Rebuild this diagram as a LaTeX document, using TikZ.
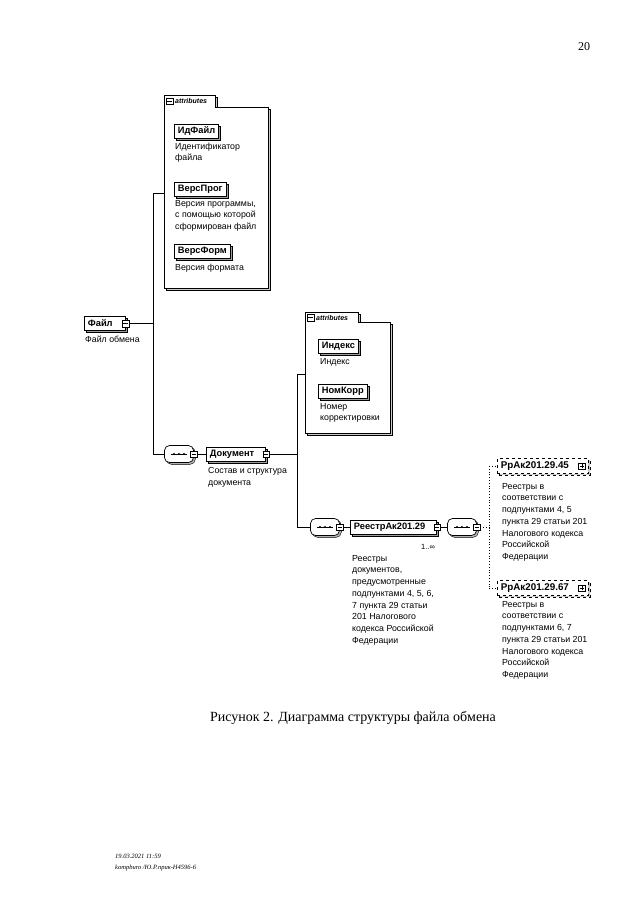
\documentclass[tikz,border=0pt]{standalone}
\usepackage{fontspec}
\setmainfont{Liberation Sans}
\newfontfamily\serifff{Liberation Serif}
\usetikzlibrary{shadows}
\tikzset{
  elem/.style={draw, fill=white, line width=0.8pt, font=\bfseries\fontsize{9.3}{10}\selectfont,
    inner xsep=3.5pt, inner ysep=0pt, minimum height=14pt, text height=7pt, text depth=1.8pt,
    copy shadow={shadow xshift=1.8pt, shadow yshift=-1.8pt, fill=gray!75, draw=black, line width=0.5pt}},
  optelem/.style={elem, dashed, line width=0.7pt, font=\bfseries\fontsize{9.8}{10}\selectfont, minimum height=15pt,
    copy shadow={shadow xshift=1.6pt, shadow yshift=-1.6pt, fill=gray!40, draw=black, dashed, line width=0.5pt}},
  iconbase/.style={draw, fill=white, inner sep=0pt, minimum size=6.5pt, line width=0.5pt},
  iconminus/.style={iconbase, path picture={\draw[line width=0.5pt] ([xshift=1pt]path picture bounding box.west) -- ([xshift=-1pt]path picture bounding box.east);}},
  iconplus/.style={iconbase, path picture={\draw[line width=0.5pt] ([xshift=1pt]path picture bounding box.west) -- ([xshift=-1pt]path picture bounding box.east);
      \draw[line width=0.5pt] ([yshift=1pt]path picture bounding box.south) -- ([yshift=-1pt]path picture bounding box.north);}},
  comp/.style={draw, fill=white, rounded corners=5pt, minimum width=29pt, minimum height=17pt, inner sep=0pt, line width=0.7pt,
    copy shadow={shadow xshift=1.8pt, shadow yshift=-1.8pt, fill=gray!60, draw=black, line width=0.4pt}},
  desc/.style={anchor=north west, align=left, inner sep=0pt, font=\fontsize{8.8}{11.7}\selectfont},
  conn/.style={line width=0.7pt},
  dconn/.style={line width=0.8pt, dotted},
  attrlbl/.style={font=\bfseries\itshape\fontsize{7}{8}\selectfont, anchor=west, inner sep=0pt},
  attrbox/.style={draw, fill=white, line width=0.7pt},
  attrshadow/.style={draw, fill=gray!40, line width=0.4pt}
}
\newcommand{\compdots}[1]{%
  \draw[line width=0.6pt] ([xshift=-8pt]#1.center) -- ([xshift=8pt]#1.center);
  \foreach \dx in {-5,0,5} \fill ([xshift=\dx pt]#1.center) circle (1.1pt);}
\begin{document}
\begin{tikzpicture}[x=1pt,y=-1pt]
\useasboundingbox[fill=white] (0,0) rectangle (640,905);

% page number
\node[font=\serifff\fontsize{12}{14}\selectfont] (pnum) at (584,47) {20};

% ---------- attributes box 1 ----------
\draw[attrshadow] (166,97) -- (217,97) -- (217,109) -- (270,109) -- (270,290) -- (166,290) -- cycle;
\draw[attrbox] (164,95) -- (215,95) -- (215,107) -- (268,107) -- (268,288) -- (164,288) -- cycle;
\node[iconminus] (a1icon) at (169.5,101) {};
\node[attrlbl] (a1lbl) at (175,101) {attributes};
\coordinate (a1L) at (164,193);

\node[elem, anchor=west] (idf) at (174,131) {ИдФайл};
\node[desc] (idfd) at (175,142.5) {Идентификатор\\файла};
\node[elem, anchor=west] (vprog) at (174,189) {ВерсПрог};
\node[desc] (vprogd) at (175,200) {Версия программы,\\с помощью которой\\сформирован файл};
\node[elem, anchor=west] (vform) at (174,251) {ВерсФорм};
\node[desc] (vformd) at (175,264) {Версия формата};

% ---------- Файл ----------
\node[elem, anchor=west] (file) at (84,323.5) {Файл\kern9pt};
\node[iconminus] (fileI) at (file.east) {};
\node[desc] (filed) at (85,335.5) {Файл обмена};
\coordinate (t1top) at (153,193);
\coordinate (t1bot) at (153,454);
\coordinate (t1mid) at (153,323.5);
\draw[conn] (a1L) -- (t1top) -- (t1bot);
\draw[conn] (fileI.east) -- (t1mid);

% ---------- Документ ----------
\node[comp] (c1) at (179,454) {};
\compdots{c1}
\node[iconminus] (c1I) at (c1.east) {};
\draw[conn] (t1bot) -- (c1.west);
\node[elem, anchor=west] (doc) at (206,454) {Документ\kern8pt};
\node[iconminus] (docI) at (doc.east) {};
\draw[conn] (c1I.east) -- (doc.west);
\node[desc] (docd) at (208,467) {Состав и структура\\документа};

% ---------- attributes box 2 ----------
\draw[attrshadow] (307,314) -- (360,314) -- (360,324) -- (392,324) -- (392,435) -- (307,435) -- cycle;
\draw[attrbox] (305,312) -- (358,312) -- (358,322) -- (390,322) -- (390,433) -- (305,433) -- cycle;
\node[iconminus] (a2icon) at (310.5,317.5) {};
\node[attrlbl] (a2lbl) at (316,317.5) {attributes};
\coordinate (a2L) at (305,374);

\node[elem, anchor=west] (idx) at (318,346) {Индекс};
\node[desc] (idxd) at (320,358.5) {Индекс};
\node[elem, anchor=west] (nkorr) at (318,391) {НомКорр};
\node[desc] (nkorrd) at (320,403) {Номер\\корректировки};

\coordinate (t2top) at (297,374);
\coordinate (t2mid) at (297,454);
\coordinate (t2bot) at (297,527);
\draw[conn] (a2L) -- (t2top) -- (t2bot);
\draw[conn] (docI.east) -- (t2mid);

% ---------- РеестрАк201.29 ----------
\node[comp] (c2) at (325,527) {};
\compdots{c2}
\node[iconminus] (c2I) at (c2.east) {};
\draw[conn] (t2bot) -- (c2.west);
\node[elem, anchor=west] (reestr) at (350,527) {РеестрАк201.29\kern8pt};
\node[iconminus] (reestrI) at (reestr.east) {};
\draw[conn] (c2I.east) -- (reestr.west);
\node[font=\fontsize{7.5}{8}\selectfont, inner sep=0pt] (mult) at (428,547) {1..∞};
\node[desc] (reestrd) at (352,555) {Реестры\\документов,\\предусмотренные\\подпунктами 4, 5, 6,\\7 пункта 29 статьи\\201 Налогового\\кодекса Российской\\Федерации};

\node[comp] (c3) at (462,527) {};
\compdots{c3}
\node[iconminus] (c3I) at (c3.east) {};
\draw[conn] (reestrI.east) -- (c3.west);
\coordinate (t3top) at (489,466);
\coordinate (t3mid) at (489,527);
\coordinate (t3bot) at (489,588);
\draw[dconn] (c3I.east) -- (t3mid);
\draw[dconn] (t3top) -- (t3bot);

% ---------- РрАк201.29.45 / .67 ----------
\node[optelem, anchor=west] (r45) at (497,466) {РрАк201.29.45\kern16pt};
\node[iconplus] (r45I) at ([xshift=-7pt]r45.east) {};
\draw[dconn] (t3top) -- (r45.west);
\node[desc] (r45d) at (502,483) {Реестры в\\соответствии с\\подпунктами 4, 5\\пункта 29 статьи 201\\Налогового кодекса\\Российской\\Федерации};

\node[optelem, anchor=west] (r67) at (497,588) {РрАк201.29.67\kern16pt};
\node[iconplus] (r67I) at ([xshift=-7pt]r67.east) {};
\draw[dconn] (t3bot) -- (r67.west);
\node[desc] (r67d) at (502,601) {Реестры в\\соответствии с\\подпунктами 6, 7\\пункта 29 статьи 201\\Налогового кодекса\\Российской\\Федерации};

% ---------- caption & footer ----------
\node[font=\serifff\fontsize{14}{16}\selectfont] (cap) at (353,718) {Рисунок 2. Диаграмма структуры файла обмена};
\node[anchor=west, inner sep=0pt, font=\serifff\itshape\fontsize{6.5}{8}\selectfont] (f1) at (115,856) {19.03.2021 11:59};
\node[anchor=west, inner sep=0pt, font=\serifff\itshape\fontsize{6.5}{8}\selectfont] (f2) at (115,868) {kompburo /Ю.Р.прик-Н4596-6};
\end{tikzpicture}
\end{document}
